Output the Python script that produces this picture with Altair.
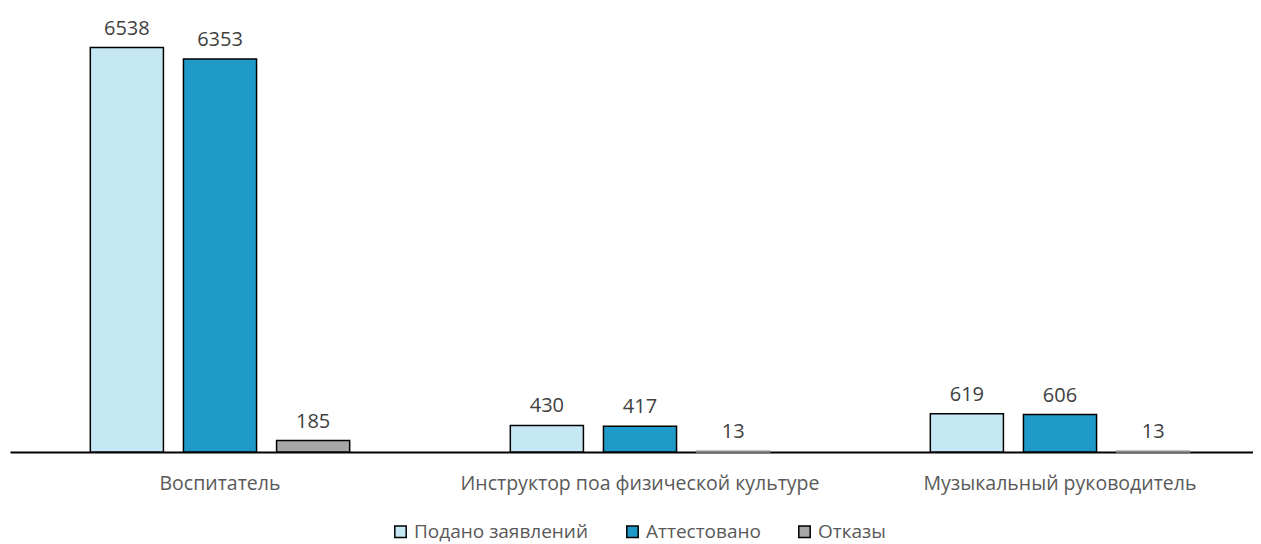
import altair as alt
import pandas as pd

categories = ["Воспитатель", "Инструктор поа физической культуре", "Музыкальный руководитель"]
series = ["Подано заявлений", "Аттестовано", "Отказы"]
submitted = [6538, 430, 619]
certified = [6353, 417, 606]
refused = [185, 13, 13]
colors = ["#C5E8F4", "#1F9AC8", "#A6A6A6"]

rows = []
for i, c in enumerate(categories):
    for s, vals in zip(series, [submitted, certified, refused]):
        rows.append({"cat": c, "series": s, "value": vals[i]})
df = pd.DataFrame(rows)

FONT = "Open Sans"

x = alt.X("cat:N", sort=categories, title=None,
          scale=alt.Scale(range=[0, 1260], paddingInner=0.335, paddingOuter=0.1675),
          axis=alt.Axis(labelAngle=0, ticks=False, labelPadding=22, labelFontSize=19.5,
                        labelColor="#595959", labelFont=FONT, labelLimit=0,
                        domainColor="#000000", domainWidth=2, grid=False))
xo = alt.XOffset("series:N", sort=series,
                 scale=alt.Scale(paddingInner=0.215, paddingOuter=0.107))
y = alt.Y("value:Q", scale=alt.Scale(domain=[0, 7000], nice=False), axis=None)

bars = alt.Chart(df).mark_bar(strokeWidth=1.5).encode(
    x=x, xOffset=xo, y=y,
    color=alt.Color("series:N", sort=series,
                    scale=alt.Scale(domain=series, range=colors),
                    legend=alt.Legend(title=None, orient="none", direction="horizontal",
                                      legendX=381, legendY=503, labelLimit=0,
                                      symbolType="square", symbolSize=130,
                                      symbolStrokeColor="#000000", symbolStrokeWidth=1.5,
                                      labelFontSize=19, labelFont=FONT, labelColor="#595959",
                                      columnPadding=34, labelOffset=4)),
    stroke=alt.condition(alt.datum.value < 50, alt.value("#8C8C8C"), alt.value("#000000")),
)

labels = alt.Chart(df).mark_text(baseline="alphabetic", dy=-13, fontSize=20, font=FONT,
                                 color="#404040").encode(
    x=x, xOffset=xo, y=y, text=alt.Text("value:Q", format="d"))

chart = alt.layer(bars, labels).properties(
    width=1243, height=433,
    padding={"left": 2, "top": 11, "right": 0, "bottom": 92},
    autosize=alt.AutoSizeParams(type="none"),
).configure_view(stroke=None)

chart.save("out.html", embed_options={"renderer": "svg", "actions": False})
